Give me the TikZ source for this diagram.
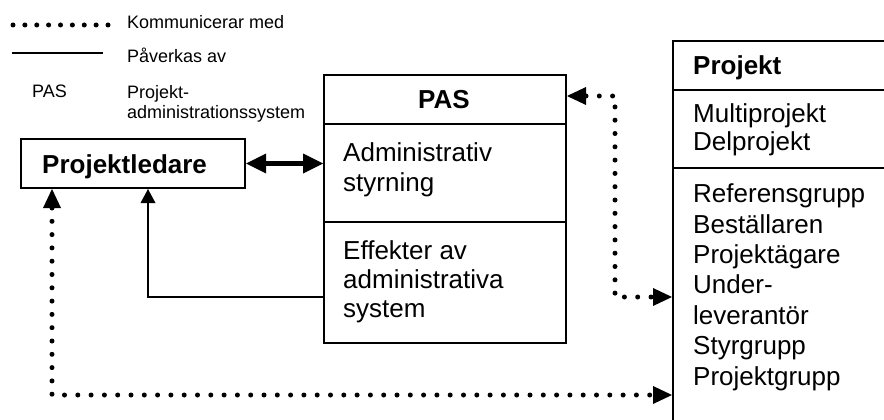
\documentclass[tikz,border=0pt]{standalone}
\usepackage{fontspec}
\setmainfont{Liberation Sans}
\usetikzlibrary{arrows.meta,calc}

\tikzset{
  dottip/.tip={Triangle[length=19pt,width=18pt,line width=0pt]},
  thintip/.tip={Triangle[length=14pt,width=15pt,line width=0pt]},
  fattip/.tip={Triangle[length=20pt,width=20pt,line width=0pt]},
}

\begin{document}
\begin{tikzpicture}[x=1pt,y=-1pt,
  boxline/.style={line width=2pt},
  framebox/.style={draw,boxline,anchor=north west,inner sep=0pt},
  % multi-line text nodes are placed by the baseline of their last line
  legendtxt/.style={anchor=base west,inner sep=0pt,align=left,
    font=\fontsize{18}{20}\selectfont},
  boxtxt/.style={anchor=base west,inner sep=0pt,align=left,
    font=\fontsize{26}{29}\selectfont},
  titletxt/.style={anchor=base west,inner sep=0pt,
    font=\fontsize{26}{29}\selectfont\bfseries},
  dotline/.style={line width=5pt,line cap=round,dash pattern=on 0pt off 13.3pt},
  legenddots/.style={line width=5pt,line cap=round,dash pattern=on 0pt off 11.875pt},
]
% canvas
\path[fill=white,use as bounding box] (0,0) rectangle (884,420);
\clip (0,0) rectangle (884,420);

% legend
\coordinate (dotA) at (13,25);
\coordinate (dotB) at (108,25);
\draw[legenddots] (dotA) -- (dotB);
\node[legendtxt] (lkom) at (127,29) {Kommunicerar med};
\coordinate (lnA) at (12,53);
\coordinate (lnB) at (103,53);
\draw[line width=1.2pt] (lnA) -- (lnB);
\node[legendtxt] (lpav) at (127,63) {Påverkas av};
\node[legendtxt] (lpas) at (32,97) {PAS};
\node[legendtxt] (lpasdef) at (127,118) {Projekt-\\administrationssystem};

% Projektledare
\node[framebox,minimum width=224pt,minimum height=49pt] (pl) at (20,138) {};
\node[titletxt] (pltxt) at (42,173) {Projektledare};

% PAS box
\node[framebox,minimum width=242pt,minimum height=268pt] (pas) at (323,74) {};
\draw[boxline] ($(pas.north west)+(0,50)$) -- ($(pas.north east)+(0,50)$);
\draw[boxline] ($(pas.north west)+(0,148)$) -- ($(pas.north east)+(0,148)$);
\node[titletxt,anchor=base] (pastitle) at (444,108) {PAS};
\node[boxtxt,font=\fontsize{26}{30}\selectfont] (pasadm) at (343,191) {Administrativ\\styrning};
\node[boxtxt] (paseff) at (343,317) {Effekter av\\administrativa\\system};

% Projekt box (runs past the page edge)
\node[framebox,minimum width=260pt,minimum height=420pt] (proj) at (672,40) {};
\draw[boxline] ($(proj.north west)+(0,50)$) -- ($(proj.north east)+(0,50)$);
\draw[boxline] ($(proj.north west)+(0,128)$) -- ($(proj.north east)+(0,128)$);
\node[titletxt] (projtitle) at (693,75) {Projekt};
\node[boxtxt,font=\fontsize{26}{28}\selectfont] (projsub) at (693,150) {Multiprojekt\\Delprojekt};
\node[boxtxt,font=\fontsize{26}{30.4}\selectfont] (projlist) at (693,385)
  {Referensgrupp\\Beställaren\\Projektägare\\Under-\\leverantör\\Styrgrupp\\Projektgrupp};

% connectors
\draw[line width=5pt,fattip-fattip] (pl.east) -- (pl.east -| pas.west);

\coordinate (effL) at ($(pas.north west)+(0,223)$);
\coordinate (plfoot) at ($(pl.south west)+(128,0)$);
\draw[line width=1.5pt,-thintip] (effL) -| (plfoot);

\coordinate (plfootB) at ($(pl.south west)+(32,0)$);
\coordinate (cornerA) at (52,395);
\draw[dotline,dottip-dottip] (plfootB) -- (cornerA) -- (cornerA -| proj.west);

\coordinate (pasR) at ($(pas.north east)+(0,22)$);
\coordinate (cornerB) at (615,96);
\coordinate (cornerC) at (615,297);
\draw[dotline,dottip-dottip] (pasR) -- (cornerB) -- (cornerC) -- (cornerC -| proj.west);
\end{tikzpicture}
\end{document}
